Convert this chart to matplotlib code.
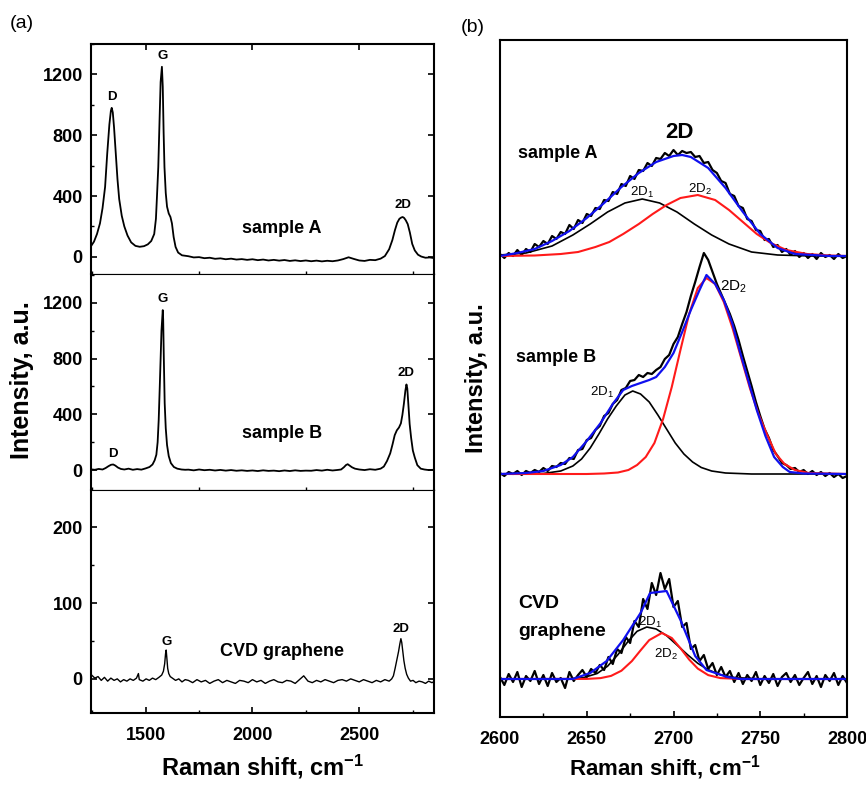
import numpy as np
import matplotlib
matplotlib.use("Agg")
import matplotlib.pyplot as plt
from matplotlib.ticker import MultipleLocator

plt.rcParams['font.family'] = ['Liberation Sans', 'DejaVu Sans']
plt.rcParams['font.weight'] = 'bold'
plt.rcParams['mathtext.default'] = 'regular'

# ---------------- panel (a): full Raman spectra ----------------
# sample A
specA_x = ([1244, 1258, 1272, 1286, 1298, 1310, 1320, 1330, 1337, 1341,
            1346, 1352, 1360, 1368, 1376, 1388, 1400, 1415, 1432, 1452,
            1472, 1492, 1510, 1526, 1540, 1548, 1553, 1559, 1565, 1570,
            1576, 1580, 1584, 1588, 1594, 1600, 1608, 1616, 1623, 1631,
            1640, 1652, 1670]
           + list(range(1700, 2601, 25))
           + [2620, 2640, 2655, 2667, 2678, 2688, 2696, 2703, 2710, 2718,
              2727, 2737, 2748, 2760, 2775, 2790, 2810, 2830, 2848])
specA_y = ([70, 100, 150, 220, 320, 460, 680, 870, 960, 980,
            950, 850, 680, 510, 380, 270, 200, 140, 95, 72,
            66, 70, 82, 104, 150, 250, 400, 590, 900, 1150,
            1250, 1120, 820, 590, 420, 330, 285, 262, 220, 130,
            65, 28, 10]
           + [4, -4, -2, -9, -6, -13, -10, -16, -12, -18,
              -15, -20, -16, -22, -18, -24, -20, -25, -21, -27,
              -23, -28, -24, -29, -25, -30, -26, -29, -24, -15,
              -3, -14, -24, -27, -20, -22, -12]
           + [5, 50, 110, 175, 225, 250, 258, 262, 256, 240,
              215, 160, 85, 42, 14, 2, -6, -4, -8])

# sample B
specB_x = ([1244, 1262, 1280, 1298, 1312, 1326, 1338, 1348, 1358, 1370,
            1384, 1400, 1420, 1440, 1460, 1480, 1500, 1518, 1532, 1542,
            1550, 1556, 1561, 1566, 1570, 1574, 1578, 1580, 1582, 1585,
            1589, 1594, 1600, 1608, 1618, 1632, 1648, 1668, 1685]
           + list(range(1700, 2401, 25))
           + [2415, 2428, 2438, 2446, 2455, 2466, 2480, 2500, 2525, 2550,
              2575, 2600, 2615, 2630, 2645, 2656, 2666, 2676, 2686, 2695,
              2702, 2709, 2716, 2721, 2725, 2730, 2736, 2743, 2751, 2760,
              2772, 2788, 2805, 2825, 2848])
specB_y = ([5, 2, 8, 4, 14, 28, 38, 40, 32, 18,
            8, 4, 10, 2, 7, 3, 12, 22, 40, 70,
            110, 200, 360, 600, 800, 1000, 1100, 1147, 1080, 800,
            480, 300, 180, 100, 50, 22, 10, 4, 2]
           + [3, -2, 4, -1, 2, -3, 1, -4, 0, -5,
              -2, -6, -3, -7, -2, -6, -4, -8, -3, -7,
              -2, -6, -4, -5, 0, -4, 2, -3, 1]
           + [4, 20, 36, 42, 32, 20, 10, 4, 0, 6,
              2, 10, 25, 65, 120, 185, 250, 285, 305, 335,
              395, 475, 570, 614, 585, 470, 330, 230, 140, 90,
              35, 10, 4, 0, 2])

# CVD graphene
specC_x = ([1247, 1262, 1277, 1292, 1307, 1322, 1337, 1352, 1367, 1382,
            1397, 1412, 1427, 1442, 1457, 1466, 1470, 1487, 1502, 1517,
            1532, 1547, 1562, 1575, 1583, 1589, 1593, 1596, 1599, 1603,
            1608, 1615, 1625, 1640, 1655, 1670, 1685]
           + list(range(1700, 2641, 20))
           + [2652, 2660, 2668, 2676, 2684, 2690, 2695, 2699, 2704, 2709,
              2715, 2722, 2730, 2740, 2752, 2765, 2780, 2795, 2810, 2825,
              2840, 2848])
specC_y = ([5, 1, 3, -2, 2, -3, 1, -2, 0, -4,
            -1, -3, 0, -2, 1, 7, -1, -3, 0, -2,
            1, -1, 2, 5, 10, 20, 33, 38, 28, 14,
            7, 3, 1, -2, 0, -4, -1]
           + [-2, -5, -1, -4, -2, -6, -3, -1, -5, -2,
              -4, -6, -2, -3, -5, -1, -4, -2, -6, -3,
              -1, -4, -5, -2, -3, -6, -1, 4, -3, -5,
              -2, -4, -1, -3, -5, -2, -1, -3, 0, -2,
              -4, -1, -3, -5, -2, -4, -1, -3]
           + [0, 4, 14, 25, 36, 46, 53, 48, 36, 24,
              14, 6, 1, -3, -2, -5, -3, -4, -6, -3,
              -5, -4])

# peak labels: (text, x, y)
peaksA = [("D", 1341, 1049), ("G", 1580, 1322), ("2D", 2703, 339)]
peaksB = [("D", 1345, 115), ("G", 1580, 1228), ("2D", 2720, 693)]
peaksC = [("G", 1597, 49), ("2D", 2697, 66)]

# ---------------- panel (b): 2D band with two-component fits ----------------
offsets = {"A": 461, "B": 243, "C": 38}

# measured 2D band, 2.5 cm-1 steps from 2600 to 2800
data_x = np.linspace(2600, 2800, 81)
dataA_y = [2, -2, 3, 0, 6, 1, 7, 4, 12, 9,
           15, 12, 20, 17, 24, 22, 31, 27, 36, 33,
           42, 40, 48, 47, 56, 55, 64, 62, 72, 70,
           80, 77, 86, 85, 93, 90, 98, 97, 103, 100,
           106, 101, 105, 103, 104, 99, 100, 93, 94, 86,
           83, 75, 73, 62, 60, 50, 48, 37, 35, 26,
           25, 16, 17, 9, 11, 4, 7, 1, 5, -1,
           3, -2, 2, -3, 3, -1, 1, -3, 2, -2, 0]
dataB_y = [1, -2, 2, 0, 3, -1, 3, 1, 4, 2,
           6, 3, 8, 7, 11, 10, 16, 15, 24, 25,
           34, 36, 44, 48, 58, 61, 70, 74, 84, 86,
           93, 94, 99, 97, 101, 100, 104, 107, 115, 119,
           130, 137, 150, 162, 178, 192, 207, 221, 214, 202,
           190, 180, 170, 160, 148, 134, 118, 103, 88, 72,
           58, 45, 36, 24, 18, 11, 9, 5, 6, 2,
           4, 0, 3, -1, 2, -2, 1, -3, 0, -4, -2]
dataC_y = [2, -6, 5, -3, 7, -8, 3, -2, 8, -5,
           4, -7, 6, -3, 1, -9, 7, -2, 4, 9,
           2, 10, 6, 14, 9, 22, 15, 30, 26, 42,
           36, 58, 52, 80, 70, 96, 84, 106, 90, 100,
           72, 78, 52, 56, 30, 34, 18, 24, 10, 16,
           4, 12, 2, 8, -3, 6, -5, 4, -2, 7,
           -6, 3, -4, 5, -7, 2, 6, -3, 4, -6,
           1, 7, -5, 3, -8, 4, -2, 6, -6, 3, -4]

# sample A: total fit (blue), 2D1 (black), 2D2 (red)
fitA_x = [2600, 2610, 2620, 2630, 2640, 2650, 2660, 2670, 2680, 2690, 2700,
          2705, 2710, 2720, 2730, 2740, 2750, 2760, 2770, 2780, 2790, 2800]
fitA_y = [0, 3, 7, 15, 25, 38, 53, 69, 83, 94, 100,
          101, 99, 88, 68, 44, 22, 8, 2, 1, 0, 0]
a1_x = [2600, 2615, 2630, 2642, 2652, 2662, 2672, 2682, 2692, 2702,
        2712, 2722, 2732, 2745, 2760, 2780, 2800]
a1_y = [1, 3, 10, 21, 32, 44, 53, 57, 53, 44, 32, 21, 12, 4, 1, 0, 0]
a2_x = [2600, 2620, 2635, 2645, 2655, 2663, 2671, 2680, 2688, 2696, 2704,
        2714, 2724, 2732, 2740, 2748, 2756, 2765, 2777, 2790, 2800]
a2_y = [0, 0.5, 2, 4, 9, 14, 22, 32, 42, 51, 58,
        61, 56, 46, 34, 22, 13, 6, 2, 0.5, 0]

# sample B
fitB_x = [2600, 2615, 2625, 2635, 2642, 2650, 2658, 2665, 2671, 2676,
          2681, 2686, 2690, 2695, 2700, 2705, 2710, 2715, 2719, 2724,
          2729, 2734, 2738, 2743, 2748, 2753, 2758, 2763, 2767, 2775, 2800]
fitB_y = [0, 1, 3, 9, 17, 33, 51, 70, 84, 88,
          91, 94, 97, 107, 121, 142, 164, 184, 199, 190,
          174, 150, 124, 94, 64, 38, 17, 7, 2, 0.5, 0]
b1_x = [2600, 2615, 2625, 2635, 2642, 2647, 2652, 2657, 2662, 2667,
        2672, 2676.5, 2681, 2686, 2691, 2696, 2701, 2706, 2711, 2716,
        2722, 2730, 2745, 2800]
b1_y = [0, 0, 0.5, 3, 8, 15, 26, 40, 55, 68,
        79, 83, 80, 72, 59, 45, 31, 20, 12, 6.5,
        3, 1, 0, 0]
b2_x = [2600, 2650, 2660, 2668, 2674, 2679, 2684, 2689, 2694, 2699,
        2704, 2709, 2714, 2719, 2724, 2729, 2734, 2739, 2744, 2749,
        2754, 2759, 2764, 2770, 2778, 2800]
b2_y = [0, 0, 0.5, 1.5, 4, 9, 17, 31, 55, 87,
        124, 160, 186, 196, 190, 172, 146, 116, 86, 60,
        39, 20, 10, 4, 1, 0]

# CVD graphene
fitC_x = [2600, 2642, 2652, 2661.5, 2671, 2681, 2686.5, 2696, 2704, 2712.5,
          2719, 2731, 2738.5, 2800]
fitC_y = [0, 0, 6, 18, 39, 66, 86, 88, 59, 23, 9, 2, 0, 0]
c1_x = [2600, 2640, 2648, 2656, 2662, 2668, 2674, 2679, 2684.6, 2690,
        2696, 2702, 2708, 2714, 2720, 2727, 2735, 2750, 2800]
c1_y = [0, 0.2, 1.3, 5.5, 12.8, 24.4, 38, 47.7, 52, 50,
        43.4, 34, 24.4, 15.7, 9.2, 4.3, 1.5, 0.1, 0]
c2_x = [2600, 2650, 2658, 2664, 2670, 2676, 2681, 2686, 2693.3, 2699,
        2704, 2709, 2714, 2720, 2727, 2740, 2800]
c2_y = [0, 0.1, 0.9, 3.1, 8.3, 17.9, 28.6, 38.9, 46, 41,
        30.8, 19.5, 10.4, 3.9, 0.9, 0, 0]

W, H = 866, 785
fig = plt.figure(figsize=(W / 100, H / 100), dpi=100)


def frac(x0, y0, x1, y1):
    # pixel box -> figure fraction rect
    return [x0 / W, 1 - y1 / H, (x1 - x0) / W, (y1 - y0) / H]


ax_a1 = fig.add_axes(frac(91, 44, 434, 274))
ax_a2 = fig.add_axes(frac(91, 274, 434, 490))
ax_a3 = fig.add_axes(frac(91, 490, 434, 713))
ax_b = fig.add_axes(frac(500, 40, 847, 717))

left_axes = [ax_a1, ax_a2, ax_a3]
spectra = [(specA_x, specA_y, peaksA, "sample A", (2137, 186), (-113, 1400), 400, 200),
           (specB_x, specB_y, peaksB, "sample B", (2137, 263), (-143, 1406), 400, 200),
           (specC_x, specC_y, peaksC, "CVD graphene", (2140, 36), (-45, 249), 100, 50)]

for i, (ax, (sx, sy, peaks, name, npos, ylim, major, minor)) in enumerate(zip(left_axes, spectra)):
    lw = 1.0 if i == 2 else 1.3
    ax.plot(sx, sy, color='black', lw=lw)
    ax.set_xlim(1244, 2850)
    ax.set_ylim(*ylim)
    ax.yaxis.set_major_locator(MultipleLocator(major))
    ax.yaxis.set_minor_locator(MultipleLocator(minor))
    ax.xaxis.set_major_locator(MultipleLocator(500))
    ax.xaxis.set_minor_locator(MultipleLocator(250))
    ax.tick_params(axis='both', which='both', direction='in', labelsize=13, pad=6)
    ax.tick_params(axis='both', which='major', length=4, width=1.2)
    ax.tick_params(axis='both', which='minor', length=2.5, width=1.0)
    ax.tick_params(axis='y', left=True, right=True)
    for s in ax.spines.values():
        s.set_linewidth(1.5)
    for t, px, py in peaks:
        ax.text(px, py, t, ha='center', va='center', fontsize=9.5, fontweight='bold')
    ax.text(npos[0], npos[1], name, ha='center', va='center', fontsize=13, fontweight='bold')

# x ticks: top of upper panel, bottom of lower panel only
ax_a1.tick_params(axis='x', top=True, bottom=False, labelbottom=False)
ax_a2.tick_params(axis='x', top=False, bottom=False, labelbottom=False)
ax_a3.tick_params(axis='x', top=False, bottom=True, labelbottom=True, pad=10)
ax_a1.spines['bottom'].set_linewidth(0.8)
ax_a2.spines['top'].set_linewidth(0.8)
ax_a2.spines['bottom'].set_linewidth(0.8)
ax_a3.spines['top'].set_linewidth(0.8)

# ---------------- panel (b) ----------------
blue = '#1010ee'
red = '#ff1a1a'
sets = [("A", dataA_y, fitA_x, fitA_y, a1_x, a1_y, a2_x, a2_y),
        ("B", dataB_y, fitB_x, fitB_y, b1_x, b1_y, b2_x, b2_y),
        ("C", dataC_y, fitC_x, fitC_y, c1_x, c1_y, c2_x, c2_y)]
for key, dy, fx, fy, x1, y1, x2, y2 in sets:
    off = offsets[key]
    ax_b.plot(data_x, np.array(dy) + off, color='black', lw=1.6)
    ax_b.plot(x1, np.array(y1) + off, color='black', lw=1.2)
    ax_b.plot(x2, np.array(y2) + off, color=red, lw=1.5)
    ax_b.plot(fx, np.array(fy) + off, color=blue, lw=1.6)

ax_b.set_xlim(2600, 2800)
ax_b.set_ylim(0, 677)
ax_b.xaxis.set_major_locator(MultipleLocator(50))
ax_b.xaxis.set_minor_locator(MultipleLocator(25))
ax_b.set_yticks([])
ax_b.tick_params(axis='x', which='both', direction='in', labelsize=13, pad=10)
ax_b.tick_params(axis='x', which='major', length=4, width=1.2)
ax_b.tick_params(axis='x', which='minor', length=3, width=1.0)
for s in ax_b.spines.values():
    s.set_linewidth(1.5)

ax_b.text(2703.5, 585, "2D", ha='center', va='center', fontsize=16, fontweight='bold')
ax_b.text(2610.6, 563, "sample A", ha='left', va='center', fontsize=13, fontweight='bold')
ax_b.text(2609.2, 360, "sample B", ha='left', va='center', fontsize=13, fontweight='bold')
ax_b.text(2610.6, 114, "CVD", ha='left', va='center', fontsize=14, fontweight='bold')
ax_b.text(2610.6, 86, "graphene", ha='left', va='center', fontsize=14, fontweight='bold')
small = dict(ha='center', va='center', fontsize=9.5, fontweight='normal')
ax_b.text(2681.7, 525, "2D$_1$", **small)
ax_b.text(2715.4, 528, "2D$_2$", **small)
ax_b.text(2659, 325, "2D$_1$", **small)
ax_b.text(2734.6, 430, "2D$_2$", fontsize=11, ha='center', va='center', fontweight='normal')
ax_b.text(2686.5, 95, "2D$_1$", **small)
ax_b.text(2695.8, 63, "2D$_2$", **small)

# axis titles and panel letters
fig.text(22 / W, 1 - 380 / H, "Intensity, a.u.", rotation=90, ha='center', va='center', fontsize=18)
fig.text(477 / W, 1 - 378 / H, "Intensity, a.u.", rotation=90, ha='center', va='center', fontsize=17)
fig.text(262 / W, 1 - 767 / H, "Raman shift, cm$^{-1}$", ha='center', va='center', fontsize=17)
fig.text(665 / W, 1 - 768 / H, "Raman shift, cm$^{-1}$", ha='center', va='center', fontsize=16)
fig.text(22 / W, 1 - 24 / H, "(a)", ha='center', va='center', fontsize=14, fontweight='normal')
fig.text(473 / W, 1 - 28 / H, "(b)", ha='center', va='center', fontsize=14, fontweight='normal')

fig.savefig("out.png", dpi=100)
